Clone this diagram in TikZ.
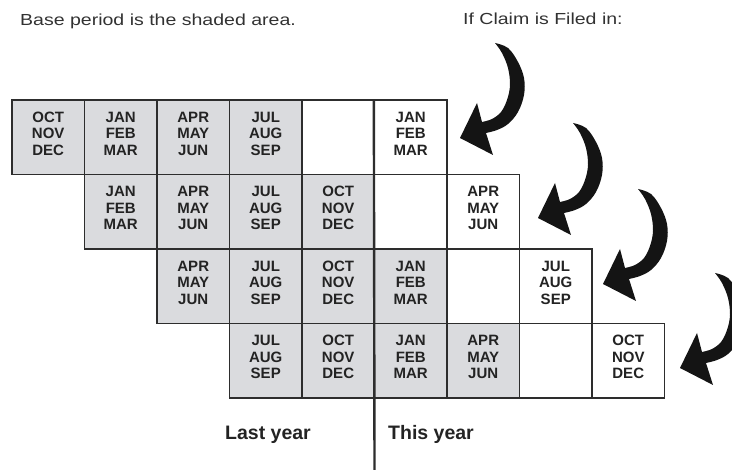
\documentclass[tikz,border=0pt]{standalone}
\usepackage{fontspec}
\setmainfont{Liberation Sans}
\newfontfamily\titlefont[FakeStretch=1.22]{Liberation Sans}
\definecolor{shade}{RGB}{218,219,222}
\definecolor{linec}{RGB}{45,45,45}
\definecolor{txtc}{RGB}{35,35,35}
\definecolor{titlec}{RGB}{50,50,50}
\tikzset{
  cell/.style={draw=linec, line width=1.3pt, minimum width=72.5pt, minimum height=74.5pt,
    inner sep=0pt, align=center, text=txtc, text depth=7pt,
    font=\fontsize{15}{16.5}\selectfont\bfseries},
  shaded/.style={cell, fill=shade},
  plain/.style={cell, fill=white},
  title/.style={anchor=base west, inner sep=0pt, text=titlec, font=\titlefont\fontsize{16}{19}\selectfont},
  yearlabel/.style={anchor=base, inner sep=0pt, text=txtc, font=\fontsize{19.5}{22}\selectfont\bfseries},
  divider/.style={draw=linec, line width=2.4pt},
  curl/.pic={
    \fill[black!92] (0,0) -- (17,-35) -- (22,-16)
      -- plot[smooth, tension=0.6] coordinates {(22,-16) (32,-19) (41,-26) (47,-38) (50,-53) (48,-70) (42,-85) (35,-95)}
      -- plot[smooth, tension=0.6] coordinates {(35,-95) (48,-90) (58,-76) (64,-60) (64,-43) (58,-26) (48,-14) (37,-8) (26,-5)}
      -- (33,17) -- cycle;
  }
}
\begin{document}
\begin{tikzpicture}[x=1pt,y=-1pt]
\useasboundingbox (0,0) rectangle (732,470);
\clip (0,0) rectangle (732,470);

% titles
\node[title] (t1) at (20,26) {Base period is the shaded area.};
\node[title] (t2) at (463,25) {If Claim is Filed in:};

% row 0
\node[shaded] (r0c0) at (48.25,137.25) {OCT\\NOV\\DEC};
\node[shaded] (r0c1) at (120.75,137.25) {JAN\\FEB\\MAR};
\node[shaded] (r0c2) at (193.25,137.25) {APR\\MAY\\JUN};
\node[shaded] (r0c3) at (265.75,137.25) {JUL\\AUG\\SEP};
\node[plain]  (r0c4) at (338.25,137.25) {};
\node[plain]  (r0c5) at (410.75,137.25) {JAN\\FEB\\MAR};
% row 1
\node[shaded] (r1c1) at (120.75,211.75) {JAN\\FEB\\MAR};
\node[shaded] (r1c2) at (193.25,211.75) {APR\\MAY\\JUN};
\node[shaded] (r1c3) at (265.75,211.75) {JUL\\AUG\\SEP};
\node[shaded] (r1c4) at (338.25,211.75) {OCT\\NOV\\DEC};
\node[plain]  (r1c5) at (410.75,211.75) {};
\node[plain]  (r1c6) at (483.25,211.75) {APR\\MAY\\JUN};
% row 2
\node[shaded] (r2c2) at (193.25,286.25) {APR\\MAY\\JUN};
\node[shaded] (r2c3) at (265.75,286.25) {JUL\\AUG\\SEP};
\node[shaded] (r2c4) at (338.25,286.25) {OCT\\NOV\\DEC};
\node[shaded] (r2c5) at (410.75,286.25) {JAN\\FEB\\MAR};
\node[plain]  (r2c6) at (483.25,286.25) {};
\node[plain]  (r2c7) at (555.75,286.25) {JUL\\AUG\\SEP};
% row 3
\node[shaded] (r3c3) at (265.75,360.75) {JUL\\AUG\\SEP};
\node[shaded] (r3c4) at (338.25,360.75) {OCT\\NOV\\DEC};
\node[shaded] (r3c5) at (410.75,360.75) {JAN\\FEB\\MAR};
\node[shaded] (r3c6) at (483.25,360.75) {APR\\MAY\\JUN};
\node[plain]  (r3c7) at (555.75,360.75) {};
\node[plain]  (r3c8) at (628.25,360.75) {OCT\\NOV\\DEC};

% divider between years
\coordinate (divbot) at (374.5,470);
\draw[divider] (r0c5.north west) -- (divbot);

% year labels
\node[yearlabel] (last) at (268,440) {Last year};
\node[yearlabel, anchor=base west] (this) at (388,440) {This year};

% curled arrows
\pic (a1) at (460,138) {curl};
\pic (a2) at (538,218) {curl};
\pic (a3) at (603,284) {curl};
\pic (a4) at (680,368) {curl};
\end{tikzpicture}
\end{document}
